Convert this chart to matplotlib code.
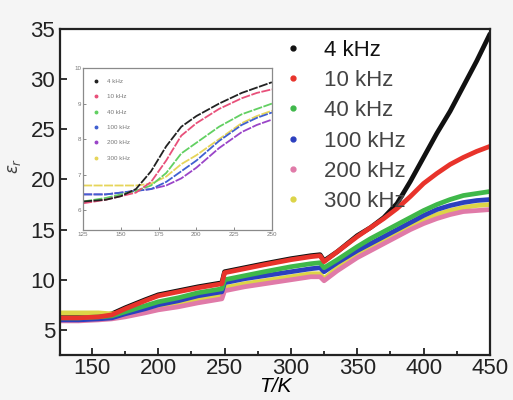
import numpy as np
import matplotlib
matplotlib.use('Agg')
import matplotlib.pyplot as plt
from matplotlib.lines import Line2D
from matplotlib.ticker import MultipleLocator

plt.rcParams['font.family'] = ['Liberation Sans', 'DejaVu Sans']
plt.rcParams['mathtext.fontset'] = 'dejavusans'

# ---- main panel: dielectric constant vs temperature ----
T = [126, 140, 155, 165, 175, 190, 200, 215, 230, 248, 250, 265, 280, 300,
     315, 322, 325, 335, 350, 360, 370, 380, 390, 400, 410, 420, 430, 440, 450]

eps_4k = [6.3, 6.3, 6.4, 6.6, 7.2, 8.0, 8.5, 8.9, 9.3, 9.7, 10.8, 11.2, 11.6, 12.1,
          12.4, 12.5, 11.9, 12.8, 14.4, 15.2, 16.2, 17.6, 19.8, 22.2, 24.6, 26.8, 29.3, 31.8, 34.5]
eps_10k = [6.2, 6.2, 6.3, 6.5, 7.1, 7.9, 8.4, 8.8, 9.2, 9.6, 10.7, 11.1, 11.5, 12.0,
           12.3, 12.4, 11.8, 12.8, 14.3, 15.2, 16.1, 17.1, 18.3, 19.6, 20.6, 21.5, 22.2, 22.8, 23.3]
eps_40k = [6.2, 6.2, 6.3, 6.4, 6.8, 7.4, 7.8, 8.2, 8.7, 9.1, 10.0, 10.4, 10.8, 11.3,
           11.6, 11.7, 11.2, 12.0, 13.3, 14.1, 14.8, 15.5, 16.2, 16.9, 17.5, 18.0, 18.4, 18.6, 18.8]
eps_100k = [6.0, 6.0, 6.1, 6.2, 6.6, 7.1, 7.5, 7.9, 8.4, 8.8, 9.7, 10.1, 10.4, 10.8,
            11.1, 11.2, 10.8, 11.7, 12.9, 13.6, 14.3, 15.0, 15.7, 16.4, 17.0, 17.4, 17.7, 17.9, 18.0]
eps_200k = [5.9, 5.9, 6.0, 6.1, 6.3, 6.7, 7.0, 7.3, 7.7, 8.1, 8.9, 9.3, 9.6, 10.0,
            10.3, 10.3, 9.9, 10.9, 12.2, 12.9, 13.6, 14.3, 15.0, 15.6, 16.1, 16.5, 16.8, 16.9, 17.0]
eps_300k = [6.7, 6.7, 6.7, 6.6, 6.7, 7.0, 7.3, 7.6, 8.0, 8.4, 9.2, 9.6, 9.9, 10.3,
            10.6, 10.6, 10.1, 11.2, 12.5, 13.2, 13.9, 14.6, 15.3, 15.9, 16.5, 16.9, 17.2, 17.4, 17.5]

freq_labels = ['4 kHz', '10 kHz', '40 kHz', '100 kHz', '200 kHz', '300 kHz']
main_colors = ['#111111', '#e8332b', '#3fb84a', '#2b3fbf', '#e07aa8', '#dcd447']

# ---- inset: low-temperature region ----
T_in = [125, 140, 150, 160, 170, 180, 190, 200, 215, 230, 240, 250]
in_4k = [6.25, 6.3, 6.4, 6.6, 7.1, 7.8, 8.35, 8.65, 9.0, 9.3, 9.45, 9.6]
in_10k = [6.2, 6.3, 6.4, 6.5, 6.8, 7.4, 8.1, 8.45, 8.85, 9.15, 9.3, 9.4]
in_40k = [6.25, 6.35, 6.45, 6.55, 6.7, 7.05, 7.6, 7.9, 8.35, 8.7, 8.85, 9.0]
in_100k = [6.45, 6.45, 6.5, 6.55, 6.6, 6.8, 7.1, 7.4, 7.95, 8.4, 8.6, 8.75]
in_200k = [6.45, 6.45, 6.5, 6.55, 6.6, 6.7, 6.9, 7.2, 7.75, 8.2, 8.4, 8.55]
in_300k = [6.7, 6.7, 6.7, 6.7, 6.75, 6.95, 7.3, 7.55, 8.0, 8.45, 8.65, 8.8]
inset_colors = ['#222222', '#e8507a', '#62d062', '#4060d0', '#9a45c8', '#e6d55a']

fig = plt.figure(figsize=(5.13, 4.0), dpi=100, facecolor='#f5f5f5')
ax = fig.add_axes([0.117, 0.1125, 0.838, 0.815], facecolor='white')

# black underneath so the red band covers it where the two coincide
main_series = [eps_4k, eps_10k, eps_40k, eps_100k, eps_200k, eps_300k]
draw_order = [0, 5, 4, 3, 2, 1]
for i in draw_order:
    ax.plot(T, main_series[i], color=main_colors[i], lw=3.4,
            solid_joinstyle='round', solid_capstyle='round')

ax.set_xlim(126, 450)
ax.set_ylim(2.5, 35)
ax.xaxis.set_major_locator(MultipleLocator(50))
ax.xaxis.set_minor_locator(MultipleLocator(25))
ax.yaxis.set_major_locator(MultipleLocator(5))
ax.tick_params(which='both', direction='in', labelsize=16, width=1.3,
               colors='#222222')
ax.tick_params(axis='x', pad=2)
ax.tick_params(which='major', length=5)
ax.tick_params(which='minor', length=3)
for sp in ax.spines.values():
    sp.set_linewidth(1.6)
    sp.set_color('#222222')

ax.set_xlabel('T/K', fontsize=15, style='italic', labelpad=-1)
ax.set_ylabel(r'$\varepsilon_r$', fontsize=12, color='#444444')
ax.yaxis.set_label_coords(-0.085, 0.58)

handles = [Line2D([], [], ls='none', marker='o', ms=3.5, color=c) for c in main_colors]
leg = ax.legend(handles, freq_labels, loc='upper left', bbox_to_anchor=(0.495, 0.995),
                frameon=False, fontsize=16, handlelength=1.0, handletextpad=0.9,
                labelspacing=0.42, borderaxespad=0)
for txt in leg.get_texts():
    txt.set_color('#444444')
leg.get_texts()[0].set_color('#111111')

# inset axes
ax_in = fig.add_axes([0.162, 0.425, 0.368, 0.405], facecolor='white')
inset_series = [in_4k, in_10k, in_40k, in_100k, in_200k, in_300k]
for i in [5, 4, 3, 2, 1, 0]:
    ax_in.plot(T_in, inset_series[i], color=inset_colors[i], lw=1.3,
               ls=(0, (5, 0.8)))
ax_in.set_xlim(125, 250)
ax_in.set_ylim(5.45, 10)
ax_in.set_xticks([125, 150, 175, 200, 225, 250])
ax_in.set_yticks([6, 7, 8, 9, 10])
ax_in.tick_params(direction='in', labelsize=4.5, length=2, width=0.6,
                  colors='#777777', pad=1.5)
for sp in ax_in.spines.values():
    sp.set_linewidth(0.9)
    sp.set_color('#8a8a8a')

in_handles = [Line2D([], [], ls='none', marker='o', ms=1.8, color=c) for c in inset_colors]
in_leg = ax_in.legend(in_handles, freq_labels, loc='upper left', bbox_to_anchor=(0.04, 0.95),
                      frameon=False, fontsize=4.5, handlelength=1.0, handletextpad=1.2,
                      labelspacing=1.6, borderaxespad=0)
for txt in in_leg.get_texts():
    txt.set_color('#777777')

fig.savefig('out.png', dpi=100, facecolor=fig.get_facecolor())
